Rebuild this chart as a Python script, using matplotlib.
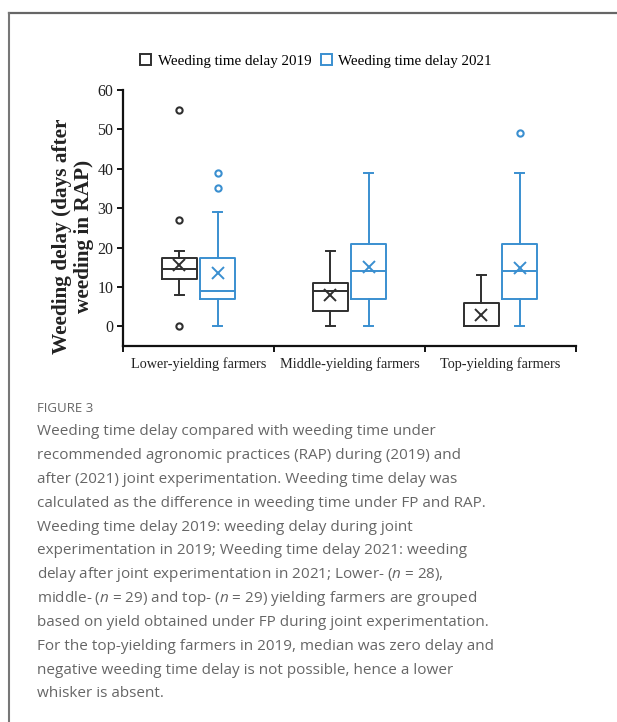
import matplotlib
matplotlib.use("Agg")
import matplotlib.pyplot as plt
from matplotlib.patches import Patch
from matplotlib.lines import Line2D

# ---- data ----
categories = ["Lower-yielding farmers", "Middle-yielding farmers", "Top-yielding farmers"]
series = ["Weeding time delay 2019", "Weeding time delay 2021"]

whislo_2019 = [8, 0, 0]
q1_2019 = [12, 4, 0]
med_2019 = [14.5, 9, 0]
q3_2019 = [17.3, 11, 6]
whishi_2019 = [19, 19, 13]
mean_2019 = [15.5, 8, 2.8]
fliers_2019 = [[55, 27, 0], [], []]

whislo_2021 = [0, 0, 0]
q1_2021 = [7, 7, 7]
med_2021 = [9, 14, 14]
q3_2021 = [17.3, 21, 21]
whishi_2021 = [29, 39, 39]
mean_2021 = [13.5, 15, 14.8]
fliers_2021 = [[39, 35], [], [49]]

yticks = [0, 10, 20, 30, 40, 50, 60]

caption_title = "FIGURE 3"
caption_lines = [
    "Weeding time delay compared with weeding time under",
    "recommended agronomic practices (RAP) during (2019) and",
    "after (2021) joint experimentation. Weeding time delay was",
    "calculated as the difference in weeding time under FP and RAP.",
    "Weeding time delay 2019: weeding delay during joint",
    "experimentation in 2019; Weeding time delay 2021: weeding",
    "delay after joint experimentation in 2021; Lower- ($n$ = 28),",
    "middle- ($n$ = 29) and top- ($n$ = 29) yielding farmers are grouped",
    "based on yield obtained under FP during joint experimentation.",
    "For the top-yielding farmers in 2019, median was zero delay and",
    "negative weeding time delay is not possible, hence a lower",
    "whisker is absent.",
]

# ---- styling ----
plt.rcParams["mathtext.fontset"] = "custom"
plt.rcParams["mathtext.rm"] = "Open Sans"
plt.rcParams["mathtext.it"] = "Open Sans:italic"

W, H = 617, 722
fig = plt.figure(figsize=(W / 100, H / 100), dpi=100)
fig.patch.set_facecolor("white")

col19 = "#2f2f2f"
col21 = "#3a8fd0"
serif = "Liberation Serif"

ax = fig.add_axes([123 / W, 1 - 346 / H, (576 - 123) / W, (346 - 90) / H])

def make_stats(lo, q1, med, q3, hi, mean, fl):
    return [dict(whislo=lo[i], q1=q1[i], med=med[i], q3=q3[i], whishi=hi[i],
                 mean=mean[i], fliers=fl[i]) for i in range(len(lo))]

stats19 = make_stats(whislo_2019, q1_2019, med_2019, q3_2019, whishi_2019, mean_2019, fliers_2019)
stats21 = make_stats(whislo_2021, q1_2021, med_2021, q3_2021, whishi_2021, mean_2021, fliers_2021)

off = 0.127
bw = 0.233
lw = 1.4
for stats, col, sgn in [(stats19, col19, -1), (stats21, col21, 1)]:
    pos = [i + sgn * off for i in range(len(categories))]
    ax.bxp(stats, positions=pos, widths=bw, showmeans=True, showfliers=True,
           capwidths=0.057, manage_ticks=False,
           boxprops=dict(color=col, linewidth=lw),
           whiskerprops=dict(color=col, linewidth=lw),
           capprops=dict(color=col, linewidth=lw),
           medianprops=dict(color=col, linewidth=lw),
           meanprops=dict(marker="x", markeredgecolor=col, markersize=8, markeredgewidth=1.4),
           flierprops=dict(marker="o", markerfacecolor="none", markeredgecolor=col,
                           markersize=4.5, markeredgewidth=1.5))

ax.set_xlim(-0.5, len(categories) - 0.5)
ax.set_ylim(-5, 60)
ax.spines["top"].set_visible(False)
ax.spines["right"].set_visible(False)
ax.spines["left"].set_bounds(-5, 60)
for s in ["left", "bottom"]:
    ax.spines[s].set_linewidth(1.6)
    ax.spines[s].set_color("#111111")

ax.set_yticks(yticks)
ax.set_yticklabels([str(v) for v in yticks], fontfamily=serif, fontsize=11.5, color="#222222")
ax.tick_params(axis="y", direction="out", length=4, width=1.3, pad=3)

ax.set_xticks([-0.5, 0.5, 1.5, 2.5])
ax.set_xticklabels([])
ax.tick_params(axis="x", direction="out", length=4, width=1.3)
ax.set_xticks(range(len(categories)), minor=True)
ax.set_xticklabels(categories, minor=True, fontfamily=serif, fontsize=10.3, color="#222222")
ax.tick_params(axis="x", which="minor", length=0, pad=8)

fig.text(73 / W, 1 - 236 / H, "Weeding delay (days after\nweeding in RAP)",
         rotation=90, ha="center", va="center", fontfamily=serif,
         fontweight="bold", fontsize=15.3, linespacing=1.1, color="#222222")

handles = [Patch(facecolor="none", edgecolor=col19, linewidth=1.4),
           Patch(facecolor="none", edgecolor=col21, linewidth=1.4)]
fig.legend(handles, series, loc="center", bbox_to_anchor=(316 / W, 1 - 61 / H),
           ncol=2, frameon=False, handlelength=0.75, handleheight=0.75,
           handletextpad=0.45, columnspacing=0.6,
           prop=dict(family=serif, size=10.8))

# frame lines (top and left)
fig.add_artist(Line2D([9 / W, 1], [1 - 13 / H, 1 - 13 / H], transform=fig.transFigure,
                      color="#666666", linewidth=1.6))
fig.add_artist(Line2D([9 / W, 9 / W], [0, 1 - 13 / H], transform=fig.transFigure,
                      color="#777777", linewidth=1.5))

# caption
cap_font = ["Open Sans", "DejaVu Sans"]
fig.text(37 / W, 1 - 408 / H, caption_title, ha="left", va="center",
         fontfamily=cap_font, fontsize=9.5, color="#666666")
for i, line in enumerate(caption_lines):
    y = 432 + i * 23.8
    fig.text(37 / W, 1 - y / H, line, ha="left", va="center",
             fontfamily=cap_font, fontsize=11.0, color="#666666")

fig.savefig("out.png", dpi=100, facecolor="white")
